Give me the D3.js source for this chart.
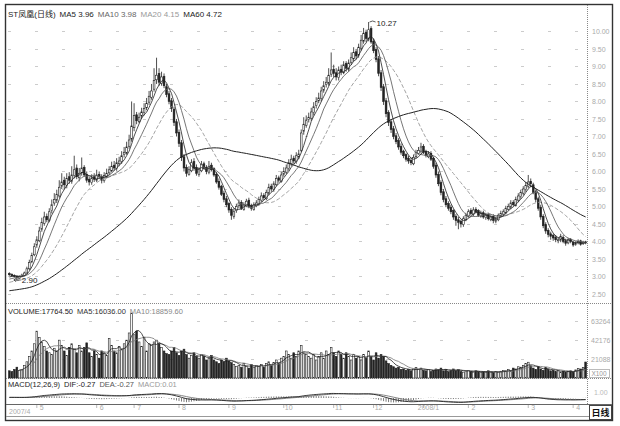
<!DOCTYPE html>
<html><head><meta charset="utf-8">
<script src="https://cdn.jsdelivr.net/npm/d3@7"></script>
<style>body{margin:0;background:#fff} svg{display:block}</style>
</head><body><svg id="c" width="620" height="426"></svg>
<script>
// ---- data ----
const priorCloses=[2.40,2.42,2.38,2.35,2.37,2.40,2.44,2.41,2.39,2.36,
2.34,2.37,2.40,2.43,2.45,2.42,2.40,2.38,2.41,2.44,
2.47,2.50,2.48,2.45,2.47,2.51,2.54,2.52,2.50,2.53,
2.56,2.60,2.58,2.55,2.57,2.61,2.65,2.63,2.60,2.62,
2.66,2.70,2.68,2.72,2.75,2.73,2.78,2.80,2.77,2.82,
2.85,2.83,2.88,2.90,2.87,2.92,2.95,2.98,3.02];
const closes=[3.05,3.02,3.00,2.96,3.00,3.04,3.10,3.22,3.40,3.60,
3.85,4.05,4.30,4.55,4.70,4.62,4.85,5.05,5.20,5.35,
5.55,5.70,5.62,5.80,5.75,5.90,6.05,5.85,5.95,6.10,
5.90,5.75,5.70,5.82,5.78,5.90,5.85,5.75,5.88,5.95,
6.05,6.15,6.10,6.25,6.30,6.45,6.55,6.70,6.90,7.30,
7.60,7.45,7.55,7.70,7.80,7.95,8.15,8.30,8.60,8.75,
8.55,8.70,8.45,8.20,8.00,7.80,7.40,7.10,6.80,6.40,
6.10,5.95,6.05,6.25,6.10,5.95,6.05,6.20,6.10,6.00,
6.15,6.05,5.90,5.70,5.55,5.35,5.20,5.05,4.90,4.75,
4.85,5.00,5.10,4.95,5.05,5.15,5.00,4.95,5.05,5.10,
5.20,5.30,5.25,5.40,5.55,5.50,5.65,5.80,5.75,5.90,
6.00,6.10,6.25,6.35,6.30,6.45,6.50,7.10,7.35,7.45,
7.55,7.70,7.85,8.00,8.10,8.30,8.45,8.55,8.75,8.90,
8.80,8.70,8.90,8.85,9.05,8.95,9.10,9.25,9.40,9.30,
9.55,9.75,9.95,9.80,10.05,9.70,9.45,9.20,8.80,8.40,
8.00,7.65,7.40,7.20,7.00,6.85,6.70,6.55,6.45,6.35,
6.30,6.25,6.40,6.55,6.60,6.70,6.55,6.45,6.50,6.35,
6.15,5.90,5.65,5.40,5.20,5.05,4.95,4.85,4.70,4.60,
4.55,4.50,4.65,4.75,4.85,4.80,4.90,4.85,4.75,4.80,
4.70,4.75,4.65,4.70,4.60,4.65,4.75,4.80,4.85,4.95,
5.00,5.10,5.05,5.20,5.30,5.40,5.50,5.60,5.70,5.65,
5.40,5.20,4.95,4.70,4.45,4.30,4.20,4.15,4.10,4.05,
4.05,4.15,4.00,3.95,4.05,4.00,3.90,3.95,4.00,3.92,3.98,3.96];
const opens=[3.08,3.06,3.03,3.01,2.95,3.00,3.03,3.10,3.22,3.42,
3.62,3.90,4.02,4.35,4.52,4.72,4.60,4.88,5.10,5.18,
5.30,5.58,5.75,5.60,5.85,5.72,5.88,6.10,5.82,5.96,
6.12,5.92,5.78,5.68,5.85,5.75,5.92,5.86,5.74,5.85,
5.96,6.02,6.18,6.08,6.22,6.28,6.48,6.52,6.72,6.92,
7.25,7.62,7.42,7.58,7.68,7.82,7.98,8.12,8.35,8.62,
8.80,8.52,8.72,8.42,8.22,8.02,7.78,7.42,7.12,6.82,
6.42,6.12,5.92,6.02,6.28,6.12,5.92,6.02,6.22,6.12,
5.98,6.18,6.08,5.92,5.72,5.58,5.38,5.22,5.08,4.92,
4.72,4.88,5.02,5.12,4.92,5.02,5.18,5.02,4.92,5.02,
5.08,5.18,5.32,5.22,5.38,5.58,5.48,5.62,5.82,5.72,
5.92,5.98,6.08,6.22,6.38,6.28,6.42,6.60,7.15,7.32,
7.48,7.52,7.68,7.88,8.02,8.08,8.32,8.48,8.52,8.78,
8.92,8.82,8.68,8.92,8.82,9.08,8.92,9.12,9.22,9.42,
9.32,9.52,9.72,9.98,9.78,10.08,9.72,9.48,9.22,8.82,
8.42,8.02,7.68,7.42,7.22,7.02,6.88,6.72,6.58,6.48,
6.38,6.32,6.22,6.42,6.52,6.58,6.72,6.58,6.42,6.52,
6.38,6.18,5.92,5.68,5.42,5.22,5.08,4.98,4.88,4.72,
4.62,4.58,4.48,4.62,4.72,4.88,4.78,4.92,4.88,4.72,
4.82,4.68,4.78,4.62,4.72,4.58,4.62,4.72,4.78,4.82,
4.92,4.98,5.12,5.02,5.18,5.28,5.38,5.48,5.58,5.72,
5.62,5.42,5.22,4.98,4.72,4.48,4.32,4.22,4.18,4.12,
4.02,4.04,4.12,4.02,3.96,4.06,3.98,3.92,3.96,4.02,3.94,3.99];
const highs=[3.12,3.09,3.06,3.03,3.03,3.08,3.14,3.28,3.48,3.68,
3.95,4.15,4.42,4.68,4.85,4.80,4.95,5.20,5.38,5.48,
5.75,5.95,5.85,5.95,5.98,6.15,6.45,6.20,6.10,6.40,
6.18,6.00,5.85,5.92,5.95,6.05,6.00,5.92,5.98,6.08,
6.15,6.28,6.30,6.38,6.42,6.58,6.70,6.85,7.05,8.00,
7.95,7.70,7.68,7.82,7.95,8.10,8.30,8.50,8.95,9.25,
8.95,8.85,8.80,8.50,8.30,8.10,7.85,7.50,7.20,6.90,
6.50,6.20,6.15,6.35,6.38,6.20,6.12,6.30,6.28,6.18,
6.30,6.25,6.12,5.98,5.80,5.62,5.45,5.30,5.12,4.98,
4.95,5.08,5.20,5.18,5.12,5.22,5.25,5.08,5.12,5.18,
5.28,5.40,5.38,5.48,5.65,5.65,5.72,5.90,5.88,6.00,
6.12,6.20,6.35,6.48,6.45,6.55,6.62,7.20,7.55,7.60,
7.68,7.82,7.98,8.12,8.25,8.42,8.58,8.70,8.95,9.40,
9.05,8.95,9.00,9.05,9.15,9.15,9.20,9.40,9.55,9.50,
9.65,9.90,10.10,10.05,10.27,10.15,9.80,9.55,9.30,8.90,
8.50,8.10,7.75,7.50,7.30,7.10,6.95,6.80,6.62,6.52,
6.45,6.40,6.48,6.62,6.70,6.82,6.78,6.62,6.58,6.58,
6.42,6.25,6.00,5.75,5.50,5.30,5.15,5.05,4.92,4.78,
4.70,4.62,4.72,4.82,4.92,4.95,4.98,4.98,4.92,4.88,
4.88,4.82,4.82,4.75,4.78,4.70,4.80,4.88,4.92,5.02,
5.08,5.18,5.18,5.28,5.38,5.48,5.58,5.70,5.90,5.80,
5.68,5.48,5.28,5.05,4.78,4.55,4.38,4.28,4.22,4.18,
4.12,4.22,4.18,4.08,4.10,4.10,4.02,4.00,4.06,4.05,4.02,4.02];
const lows=[3.02,2.99,2.97,2.90,2.94,2.98,3.01,3.08,3.18,3.38,
3.58,3.82,3.98,4.28,4.45,4.55,4.55,4.80,5.02,5.10,
5.25,5.50,5.50,5.52,5.65,5.65,5.80,5.78,5.72,5.88,
5.85,5.68,5.60,5.62,5.70,5.70,5.78,5.66,5.68,5.80,
5.90,5.98,6.02,6.02,6.15,6.22,6.40,6.48,6.65,6.85,
7.15,7.35,7.38,7.50,7.60,7.75,7.90,8.05,8.28,8.50,
8.45,8.45,8.38,8.12,7.92,7.70,7.30,7.00,6.70,6.30,
6.00,5.85,5.88,5.98,6.02,5.88,5.85,5.98,6.05,5.92,
5.92,6.00,5.85,5.65,5.48,5.30,5.12,4.98,4.82,4.62,
4.65,4.82,4.95,4.90,4.88,4.98,4.95,4.88,4.88,4.98,
5.02,5.12,5.18,5.18,5.32,5.42,5.42,5.58,5.68,5.68,
5.85,5.92,6.02,6.15,6.22,6.22,6.35,6.55,7.05,7.25,
7.40,7.45,7.60,7.80,7.95,8.00,8.25,8.40,8.45,8.70,
8.70,8.60,8.60,8.75,8.78,8.85,8.85,9.05,9.15,9.20,
9.25,9.45,9.65,9.70,9.72,9.65,9.38,9.12,8.72,8.30,
7.90,7.55,7.30,7.10,6.92,6.78,6.62,6.48,6.38,6.28,
6.22,6.18,6.18,6.38,6.48,6.52,6.50,6.40,6.38,6.30,
6.08,5.82,5.58,5.32,5.12,4.98,4.88,4.78,4.62,4.45,
4.35,4.40,4.42,4.58,4.68,4.75,4.72,4.80,4.70,4.68,
4.65,4.62,4.60,4.58,4.52,4.52,4.58,4.68,4.72,4.78,
4.88,4.92,5.00,5.00,5.12,5.22,5.32,5.42,5.52,5.55,
5.35,5.12,4.88,4.62,4.38,4.22,4.12,4.05,4.02,3.98,
3.95,3.98,3.95,3.88,3.92,3.95,3.85,3.88,3.92,3.88,3.90,3.92];
const volumes=[8000,7000,9500,12000,8500,9000,14000,18000,24000,30000,
38000,52000,45000,40000,35000,30000,28000,26000,33000,30000,
42000,36000,30000,25000,34000,38000,32000,28000,36000,30000,
34000,39000,28000,24000,30000,26000,22000,30000,28000,25000,
44000,36000,30000,28000,35000,32000,38000,42000,50000,72000,
48000,52000,40000,35000,45000,30000,38000,36000,40000,42000,
38000,34000,30000,27000,26000,30000,34000,28000,25000,30000,
32000,26000,22000,25000,28000,24000,22000,26000,24000,20000,
22000,25000,20000,18000,16000,20000,18000,22000,19000,17000,
15000,13000,14000,12000,16000,13000,11000,15000,12000,14000,
13000,15000,12000,16000,18000,14000,17000,20000,16000,22000,
24000,30000,26000,22000,28000,24000,30000,36000,28000,26000,
24000,22000,26000,20000,24000,28000,22000,30000,26000,34000,
28000,24000,30000,26000,22000,28000,24000,20000,26000,22000,
24000,20000,26000,22000,30000,24000,20000,28000,22000,26000,
24000,19000,16000,14000,12500,11000,12000,9500,10000,8500,
9500,8000,10000,11500,9500,11000,8500,8000,9500,7000,
8500,10000,9500,11000,8000,9500,7000,8500,10000,8000,
9500,7000,6500,8000,8500,7000,6500,8000,7000,6500,
7000,6500,8000,6500,6000,7000,6500,7500,8500,8000,
9500,8000,11000,10000,12500,12000,14000,16000,17500,13500,
11000,9500,12500,10000,8500,11500,9500,8000,8500,7000,
8000,6500,7500,6500,7000,8000,6500,9000,10500,10000,11500,17764.5];
const priceTicks=[2.5,3,3.5,4,4.5,5,5.5,6,6.5,7,7.5,8,8.5,9,9.5,10];
const volTicks=[21088,42176,63264];
const dateTickIdx=[11,35,50,68,88,110,130,146,166,184,208,226];
const dateTickText=["5","6","7","8","9","10","11","12","2008/1","2","3","4"];
const firstDate="2007/4";
const titleMain=[["ST凤凰(日线)","#222"],["MA5 3.96","#222"],["MA10 3.98","#666"],["MA20 4.15","#999"],["MA60 4.72","#222"]];
const titleVol=[["VOLUME:17764.50","#222"],["MA5:16036.00","#333"],["MA10:18859.60","#888"]];
const titleMacd=[["MACD(12,26,9)","#222"],["DIF:-0.27","#222"],["DEA:-0.27","#555"],["MACD:0.01","#999"]];
const maxLabel="10.27", minLabel="2.90";

// ---- drawing ----
const svg=d3.select("#c");
const font="'Liberation Sans', Arial, 'Noto Sans CJK SC', sans-serif";
const N=closes.length, P=priorCloses.length;
const L=8, R=587;
const full=priorCloses.concat(closes);
function ma(n){return closes.map((c,i)=>{const e=P+i+1,s=Math.max(0,e-n);return d3.mean(full.slice(s,e));});}
function vma(n){return volumes.map((v,i)=> i<n-1?null:d3.mean(volumes.slice(i-n+1,i+1)));}
function ema(arr,n){const k=2/(n+1);const out=[];arr.forEach((v,i)=>out.push(i?out[i-1]+k*(v-out[i-1]):v));return out;}
const e12=ema(full,12), e26=ema(full,26);
const difF=e12.map((v,i)=>v-e26[i]);
const deaF=ema(difF,9);
const dif=difF.slice(P), dea=deaF.slice(P), hist=dif.map((d,i)=>2*(d-dea[i]));

const x=d3.scaleBand().domain(d3.range(N)).range([L,R]).paddingInner(0.3).paddingOuter(0.2);
const bw=x.bandwidth(); const cx=i=>x(i)+bw/2;
const y=d3.scaleLinear().domain([2.9,10.27]).range([280,22]);
const yv=d3.scaleLinear().domain([0,63264]).range([378,321]);
const ym=d3.scaleLinear().domain([-1,1]).range([404,392]);

// frame and separators
svg.append("rect").attr("x",5.5).attr("y",4.5).attr("width",607).attr("height",416).attr("fill","none").attr("stroke","#333").attr("stroke-width",1.4);
svg.append("line").attr("x1",R+0.5).attr("x2",R+0.5).attr("y1",5).attr("y2",404).attr("stroke","#888").attr("stroke-dasharray","1,1");
[303.5,378.5].forEach(v=>svg.append("line").attr("x1",6).attr("x2",612).attr("y1",v).attr("y2",v).attr("stroke","#888").attr("stroke-dasharray","1,1"));
svg.append("line").attr("x1",6).attr("x2",612).attr("y1",404.5).attr("y2",404.5).attr("stroke","#666");
svg.append("line").attr("x1",6).attr("x2",612).attr("y1",416.5).attr("y2",416.5).attr("stroke","#999");

// faint grids
const g=svg.append("g").attr("stroke","#ccc").attr("stroke-dasharray","3,24");
priceTicks.filter(t=>y(t)>26&&y(t)<300).forEach(t=>g.append("line").attr("x1",L).attr("x2",R).attr("y1",Math.round(y(t))+0.5).attr("y2",Math.round(y(t))+0.5));
volTicks.forEach(t=>g.append("line").attr("x1",L).attr("x2",R).attr("y1",Math.round(yv(t))+0.5).attr("y2",Math.round(yv(t))+0.5));

// price axis labels
const ax=svg.append("g").attr("transform",`translate(${R+4},0)`).call(d3.axisRight(y).tickValues(priceTicks).tickSize(0).tickFormat(d3.format(".2f")));
ax.select(".domain").remove();
ax.selectAll("text").attr("fill","#aaa").style("font-family",font).style("font-size","7px").attr("dx",-2);
const av=svg.append("g").attr("transform",`translate(${R+2},0)`).call(d3.axisRight(yv).tickValues(volTicks).tickSize(0).tickFormat(d3.format("d")));
av.select(".domain").remove();
av.selectAll("text").attr("fill","#aaa").style("font-family",font).style("font-size","7px").attr("dx",-1);
svg.append("rect").attr("x",589.5).attr("y",369.5).attr("width",20).attr("height",8).attr("fill","none").attr("stroke","#bbb");
svg.append("text").attr("x",599).attr("y",376).attr("text-anchor","middle").attr("fill","#999").style("font-family",font).style("font-size","6.5px").text("X100");
const am=svg.append("g").attr("transform",`translate(${R+4},0)`).call(d3.axisRight(ym).tickValues([1]).tickSize(0).tickFormat(d3.format(".2f")));
am.select(".domain").remove();
am.selectAll("text").attr("fill","#bbb").style("font-family",font).style("font-size","7px").attr("dy",2);

// date axis
const ad=svg.append("g").attr("transform","translate(0,405)").call(d3.axisBottom(x).tickValues(dateTickIdx).tickSize(3).tickFormat((d,i)=>dateTickText[i]));
ad.select(".domain").remove();
ad.selectAll("line").attr("stroke","#bbb");
ad.selectAll("text").attr("fill","#aaa").attr("dy",-1).attr("dx",5).style("font-family",font).style("font-size","7px");
svg.append("text").attr("x",9).attr("y",414).attr("fill","#aaa").style("font-family",font).style("font-size","7px").text(firstDate);
svg.append("rect").attr("x",589.5).attr("y",405.5).attr("width",22).attr("height",14).attr("fill","#fff").attr("stroke","#444");
svg.append("text").attr("x",600.5).attr("y",416).attr("text-anchor","middle").attr("fill","#111").style("font-family",font).style("font-size","9px").style("font-weight","bold").text("日线");

// candles
const cg=svg.append("g");
d3.range(N).forEach(i=>{
  const up=closes[i]>=opens[i];
  cg.append("line").attr("x1",cx(i)).attr("x2",cx(i)).attr("y1",y(highs[i])).attr("y2",y(lows[i])).attr("stroke","#222").attr("stroke-width",0.8);
  const t=y(Math.max(opens[i],closes[i])), b=y(Math.min(opens[i],closes[i]));
  cg.append("rect").attr("x",x(i)).attr("y",t).attr("width",bw).attr("height",Math.max(0.8,b-t))
    .attr("fill",up?"#fff":"#222").attr("stroke","#222").attr("stroke-width",0.6);
});

// moving averages
const line=(arr,sc)=>d3.line().defined(d=>d!=null).x((d,i)=>cx(i)).y(d=>sc(d))(arr);
svg.append("path").attr("d",line(ma(20),y)).attr("fill","none").attr("stroke","#999").attr("stroke-width",0.9).attr("stroke-dasharray","4,2");
svg.append("path").attr("d",line(ma(10),y)).attr("fill","none").attr("stroke","#666").attr("stroke-width",0.9);
svg.append("path").attr("d",line(ma(5),y)).attr("fill","none").attr("stroke","#222").attr("stroke-width",0.8);
svg.append("path").attr("d",line(ma(60),y)).attr("fill","none").attr("stroke","#222").attr("stroke-width",1);

// max / min annotations
const iMax=d3.maxIndex(highs), iMin=d3.minIndex(lows);
svg.append("path").attr("d",`M${cx(iMax)+1},${y(highs[iMax])}l3,-1l3,1`).attr("fill","none").attr("stroke","#333").attr("stroke-width",0.8);
svg.append("text").attr("x",cx(iMax)+8).attr("y",y(highs[iMax])+4).attr("fill","#222").style("font-family",font).style("font-size","8px").text(maxLabel);
svg.append("path").attr("d",`M${cx(iMin)-3},${y(lows[iMin])}l7,0M${cx(iMin)-3},${y(lows[iMin])}l2,-1.5M${cx(iMin)-3},${y(lows[iMin])}l2,1.5`).attr("fill","none").attr("stroke","#333").attr("stroke-width",0.8);
svg.append("text").attr("x",cx(iMin)+5).attr("y",y(lows[iMin])+3).attr("fill","#222").style("font-family",font).style("font-size","8px").text(minLabel);

// volume
const vg=svg.append("g");
d3.range(N).forEach(i=>{
  const up=closes[i]>=opens[i];
  vg.append("rect").attr("x",x(i)).attr("y",yv(volumes[i])).attr("width",bw).attr("height",yv(0)-yv(volumes[i]))
    .attr("fill",up?"#fff":"#222").attr("stroke","#222").attr("stroke-width",0.6);
});
svg.append("path").attr("d",line(vma(10),yv)).attr("fill","none").attr("stroke","#777").attr("stroke-width",0.8);
svg.append("path").attr("d",line(vma(5),yv)).attr("fill","none").attr("stroke","#222").attr("stroke-width",0.8);

// macd
const mg=svg.append("g");
d3.range(N).forEach(i=>mg.append("line").attr("x1",cx(i)).attr("x2",cx(i)).attr("y1",ym(0)).attr("y2",ym(hist[i])).attr("stroke","#444").attr("stroke-width",0.7));
svg.append("path").attr("d",line(dea,ym)).attr("fill","none").attr("stroke","#777").attr("stroke-width",0.9);
svg.append("path").attr("d",line(dif,ym)).attr("fill","none").attr("stroke","#222").attr("stroke-width",0.9);

// titles
function title(items,yy,size){
  const t=svg.append("text").attr("x",8).attr("y",yy).style("font-family",font).style("font-size",size);
  items.forEach((d,k)=>t.append("tspan").attr("dx",k?4:0).attr("fill",d[1]).text(d[0]));
}
title(titleMain,17,"8px");
title(titleVol,314,"7.5px");
title(titleMacd,387,"7.5px");
</script></body></html>
